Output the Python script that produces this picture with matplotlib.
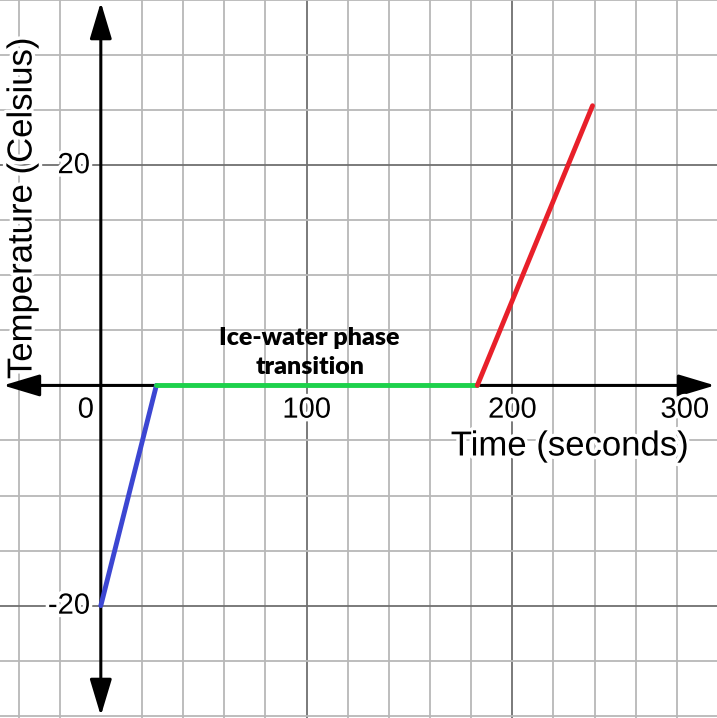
import matplotlib.pyplot as plt
import matplotlib.patheffects as pe

# heating curve: ice -> melting -> water
ice_time = [0, 27]
ice_temp = [-20, 0]
melt_time = [27, 183]
melt_temp = [0, 0]
water_time = [183, 239]
water_temp = [0, 25.4]

x_ticks = [0, 100, 200, 300]
y_ticks = [20, -20]

fig = plt.figure(figsize=(7.17, 7.18), dpi=100)
ax = fig.add_axes([0, 0, 1, 1])
ax.set_xlim(-49, 299.5)
ax.set_ylim(-30.2, 35)
for s in ax.spines.values():
    s.set_visible(False)
ax.set_xticks([])
ax.set_yticks([])

# grid (minor every 20 s / 5 deg, major every 100 s / 20 deg)
for x in range(-40, 300, 20):
    if x == 0:
        continue
    c = '#707070' if x % 100 == 0 else '#b8b8b8'
    ax.axvline(x, color=c, lw=1.3, zorder=0)
for y in range(-30, 36, 5):
    if y == 0:
        continue
    c = '#707070' if y % 20 == 0 else '#b8b8b8'
    ax.axhline(y, color=c, lw=1.3, zorder=0)

# axes with arrows
arrow = dict(arrowstyle='<|-|>,head_length=1.5,head_width=0.45', lw=2.2,
             color='black', mutation_scale=15, shrinkA=0, shrinkB=0)
ax.annotate('', xy=(-47.5, 0), xytext=(298.5, 0), arrowprops=arrow, zorder=2)
ax.annotate('', xy=(0, 34.8), xytext=(0, -30.0), arrowprops=arrow, zorder=2)

ax.plot(ice_time, ice_temp, color='#3c46d2', lw=3.5, solid_capstyle='round', zorder=3)
ax.plot(melt_time, melt_temp, color='#1dd14b', lw=3.5, solid_capstyle='round', zorder=3)
ax.plot(water_time, water_temp, color='#e8202a', lw=3.5, solid_capstyle='round', zorder=3)

halo = [pe.withStroke(linewidth=5, foreground='white')]
font = 'Liberation Sans'

for x in x_ticks:
    if x == 0:
        ax.text(-7.3, -2.2, '0', ha='center', va='center', fontsize=21,
                family=font, path_effects=halo)
    elif x == 300:
        ax.text(295.6, -2.2, str(x), ha='right', va='center', fontsize=21,
                family=font, path_effects=halo)
    else:
        ax.text(x, -2.2, str(x), ha='center', va='center', fontsize=21,
                family=font, path_effects=halo)
for y in y_ticks:
    ax.text(-5.3, y, str(y), ha='right', va='center', fontsize=21,
            family=font, path_effects=halo)

ax.text(228, -5.5, 'Time (seconds)', ha='center', va='center', fontsize=25,
        family=font, path_effects=halo)
ax.text(-38.3, 16.1, 'Temperature (Celsius)', ha='center', va='center',
        rotation=90, fontsize=25, family=font, path_effects=halo)

ax.text(101.5, 3.0, 'Ice-water phase\ntransition', ha='center', va='center',
        fontsize=18, family='Lato', fontweight='heavy', linespacing=1.35)

plt.savefig('out.png', dpi=100)
